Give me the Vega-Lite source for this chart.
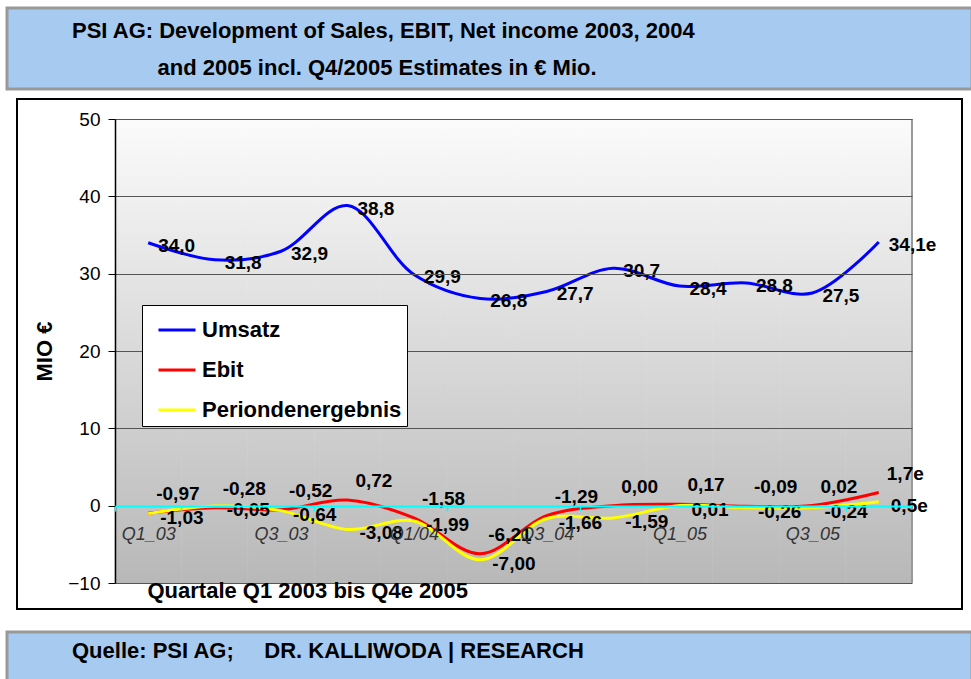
{
  "$schema": "https://vega.github.io/schema/vega-lite/v6.json",
  "background": "white",
  "padding": {"left": 5, "top": 6, "right": 1, "bottom": 0},
  "spacing": 10,
  "bounds": "flush",
  "center": true,
  "config": {
    "font": "Liberation Sans",
    "title": {"font": "Liberation Sans", "color": "black"},
    "axis": {"labelFont": "Liberation Sans", "titleFont": "Liberation Sans"},
    "legend": {"labelFont": "Liberation Sans"}
  },
  "vconcat": [
    {
      "width": 965,
      "height": 81,
      "view": {"fill": "#a6caf0", "stroke": "#999999", "strokeWidth": 3},
      "title": {
        "text": ["PSI AG: Development of Sales, EBIT, Net income 2003, 2004", "\u200b\u00a0\u00a0\u00a0\u00a0\u00a0\u00a0\u00a0\u00a0\u00a0\u00a0\u00a0\u00a0\u00a0\u00a0and 2005 incl. Q4/2005 Estimates in € Mio."],
        "orient": "top",
        "anchor": "start",
        "frame": "group",
        "fontSize": 22,
        "fontWeight": "bold",
        "lineHeight": 37,
        "dx": 65,
        "offset": -72
      },
      "data": {"values": [{}]},
      "mark": {"type": "point", "opacity": 0}
    },
    {
      "width": 945,
      "height": 510,
      "view": {"fill": "white", "stroke": "black", "strokeWidth": 2},
      "data": {
        "values": [
          {"q": "Q1_03", "s": "Umsatz", "v": 34.0, "l": "34,0"},
          {"q": "Q2_03", "s": "Umsatz", "v": 31.8, "l": "31,8"},
          {"q": "Q3_03", "s": "Umsatz", "v": 32.9, "l": "32,9"},
          {"q": "Q4_03", "s": "Umsatz", "v": 38.8, "l": "38,8"},
          {"q": "Q1/04", "s": "Umsatz", "v": 29.9, "l": "29,9"},
          {"q": "Q2_04", "s": "Umsatz", "v": 26.8, "l": "26,8"},
          {"q": "Q3_04", "s": "Umsatz", "v": 27.7, "l": "27,7"},
          {"q": "Q4_04", "s": "Umsatz", "v": 30.7, "l": "30,7"},
          {"q": "Q1_05", "s": "Umsatz", "v": 28.4, "l": "28,4"},
          {"q": "Q2_05", "s": "Umsatz", "v": 28.8, "l": "28,8"},
          {"q": "Q3_05", "s": "Umsatz", "v": 27.5, "l": "27,5"},
          {"q": "Q4e_05", "s": "Umsatz", "v": 34.1, "l": "34,1e"},
          {"q": "Q1_03", "s": "Ebit", "v": -0.97, "l": "-0,97"},
          {"q": "Q2_03", "s": "Ebit", "v": -0.28, "l": "-0,28"},
          {"q": "Q3_03", "s": "Ebit", "v": -0.52, "l": "-0,52"},
          {"q": "Q4_03", "s": "Ebit", "v": 0.72, "l": "0,72"},
          {"q": "Q1/04", "s": "Ebit", "v": -1.58, "l": "-1,58"},
          {"q": "Q2_04", "s": "Ebit", "v": -6.21, "l": "-6,21"},
          {"q": "Q3_04", "s": "Ebit", "v": -1.29, "l": "-1,29"},
          {"q": "Q4_04", "s": "Ebit", "v": 0.0, "l": "0,00"},
          {"q": "Q1_05", "s": "Ebit", "v": 0.17, "l": "0,17"},
          {"q": "Q2_05", "s": "Ebit", "v": -0.09, "l": "-0,09"},
          {"q": "Q3_05", "s": "Ebit", "v": 0.02, "l": "0,02"},
          {"q": "Q4e_05", "s": "Ebit", "v": 1.7, "l": "1,7e"},
          {"q": "Q1_03", "s": "Periondenergebnis", "v": -1.03, "l": "-1,03"},
          {"q": "Q2_03", "s": "Periondenergebnis", "v": -0.05, "l": "-0,05"},
          {"q": "Q3_03", "s": "Periondenergebnis", "v": -0.64, "l": "-0,64"},
          {"q": "Q4_03", "s": "Periondenergebnis", "v": -3.08, "l": "-3,08"},
          {"q": "Q1/04", "s": "Periondenergebnis", "v": -1.99, "l": "-1,99"},
          {"q": "Q2_04", "s": "Periondenergebnis", "v": -7.0, "l": "-7,00"},
          {"q": "Q3_04", "s": "Periondenergebnis", "v": -1.66, "l": "-1,66"},
          {"q": "Q4_04", "s": "Periondenergebnis", "v": -1.59, "l": "-1,59"},
          {"q": "Q1_05", "s": "Periondenergebnis", "v": 0.01, "l": "0,01"},
          {"q": "Q2_05", "s": "Periondenergebnis", "v": -0.26, "l": "-0,26"},
          {"q": "Q3_05", "s": "Periondenergebnis", "v": -0.24, "l": "-0,24"},
          {"q": "Q4e_05", "s": "Periondenergebnis", "v": 0.5, "l": "0,5e"}
        ]
      },
      "encoding": {
        "x": {
          "field": "q",
          "type": "nominal",
          "scale": {
            "type": "band",
            "domain": ["Q1_03", "Q2_03", "Q3_03", "Q4_03", "Q1/04", "Q2_04", "Q3_04", "Q4_04", "Q1_05", "Q2_05", "Q3_05", "Q4e_05"],
            "range": [98, 895],
            "paddingInner": 0,
            "paddingOuter": 0
          },
          "axis": {
            "title": "Quartale Q1 2003 bis Q4e 2005",
            "values": ["Q1_03", "Q3_03", "Q1/04", "Q3_04", "Q1_05", "Q3_05"],
            "tickBand": "extent",
            "offset": -103,
            "grid": false,
            "zindex": 2,
            "domainColor": "#00ffff",
            "domainWidth": 2,
            "tickColor": "#00ffff",
            "tickWidth": 1.5,
            "tickSize": 5,
            "labelAngle": 0,
            "labelFontStyle": "italic",
            "labelFontSize": 18,
            "labelColor": "#333333",
            "labelPadding": 14,
            "titleFontSize": 22,
            "titleFontWeight": "bold",
            "titleColor": "black",
            "titleAnchor": "start",
            "titleAlign": "left",
            "titleX": 130,
            "titleY": 74,
            "titleBaseline": "top"
          }
        },
        "y": {
          "field": "v",
          "type": "quantitative",
          "scale": {"domain": [-10, 50], "range": [484, 20], "nice": false, "zero": false},
          "axis": {
            "title": "MIO €",
            "values": [-10, 0, 10, 20, 30, 40, 50],
            "offset": -98,
            "zindex": 1,
            "grid": true,
            "gridColor": "#555555",
            "gridWidth": 1,
            "domainColor": "black",
            "domainWidth": 1.5,
            "tickColor": "black",
            "tickSize": 7,
            "labelFontSize": 19,
            "labelColor": "black",
            "labelPadding": 8,
            "titleFontSize": 22,
            "titleFontWeight": "bold",
            "titleColor": "black",
            "titlePadding": 11
          }
        }
      },
      "layer": [
        {
          "transform": [{"filter": "datum.s === 'Umsatz'"}],
          "mark": {
            "type": "rect",
            "fill": {"gradient": "linear", "x1": 0, "y1": 0, "x2": 0, "y2": 1, "stops": [{"offset": 0, "color": "#fbfbfb"}, {"offset": 1, "color": "#b8b8b8"}]},
            "stroke": {"gradient": "linear", "x1": 0, "y1": 0, "x2": 0, "y2": 1, "stops": [{"offset": 0, "color": "#fbfbfb"}, {"offset": 1, "color": "#b8b8b8"}]},
            "strokeWidth": 0.6
          },
          "encoding": {
            "y": {"datum": 50, "type": "quantitative"},
            "y2": {"datum": -10}
          }
        },
        {
          "transform": [{"filter": "datum.s === 'Umsatz' && datum.q === 'Q4e_05'"}],
          "mark": {"type": "rule", "color": "#999999", "strokeWidth": 2},
          "encoding": {
            "x": {"field": "q", "type": "nominal", "bandPosition": 1},
            "y": {"datum": 50, "type": "quantitative"},
            "y2": {"datum": -10}
          }
        },
        {
          "mark": {"type": "line", "interpolate": "catmull-rom", "strokeWidth": 3},
          "encoding": {
            "color": {
              "field": "s",
              "type": "nominal",
              "scale": {"domain": ["Umsatz", "Ebit", "Periondenergebnis"], "range": ["#0000ff", "#ff0000", "#ffff00"]},
              "legend": {
                "orient": "none",
                "legendX": 135,
                "legendY": 297,
                "title": null,
                "fillColor": "white",
                "strokeColor": "black",
                "padding": 5,
                "symbolType": "stroke",
                "symbolStrokeWidth": 3,
                "symbolSize": 1369,
                "symbolOffset": 10,
                "labelFontSize": 22,
                "labelFontWeight": "bold",
                "labelColor": "black",
                "labelOffset": 5,
                "labelLimit": 400,
                "rowPadding": 9
              }
            }
          }
        },
        {
          "transform": [{"filter": "datum.s === 'Umsatz'"}],
          "mark": {"type": "text", "align": "left", "baseline": "middle", "dx": 10, "dy": 3, "fontSize": 19, "fontWeight": "bold", "color": "black"},
          "encoding": {"text": {"field": "l"}}
        },
        {
          "transform": [{"filter": "datum.s === 'Ebit'"}],
          "mark": {"type": "text", "align": "left", "baseline": "middle", "dx": 8, "dy": -19, "fontSize": 19, "fontWeight": "bold", "color": "black"},
          "encoding": {"text": {"field": "l"}}
        },
        {
          "transform": [{"filter": "datum.s === 'Periondenergebnis'"}],
          "mark": {"type": "text", "align": "left", "baseline": "middle", "dx": 12, "dy": 4, "fontSize": 19, "fontWeight": "bold", "color": "black"},
          "encoding": {"text": {"field": "l"}}
        }
      ]
    },
    {
      "width": 965,
      "height": 3,
      "view": {"stroke": null, "fill": null},
      "data": {"values": [{}]},
      "mark": {"type": "point", "opacity": 0}
    },
    {
      "width": 965,
      "height": 49,
      "view": {"fill": "#a6caf0", "stroke": "#999999", "strokeWidth": 3},
      "title": {
        "text": "Quelle: PSI AG;\u00a0\u00a0\u00a0\u00a0\u00a0DR. KALLIWODA | RESEARCH",
        "orient": "top",
        "anchor": "start",
        "frame": "group",
        "fontSize": 22,
        "fontWeight": "bold",
        "dx": 65,
        "offset": -31
      },
      "data": {"values": [{}]},
      "mark": {"type": "point", "opacity": 0}
    }
  ]
}
